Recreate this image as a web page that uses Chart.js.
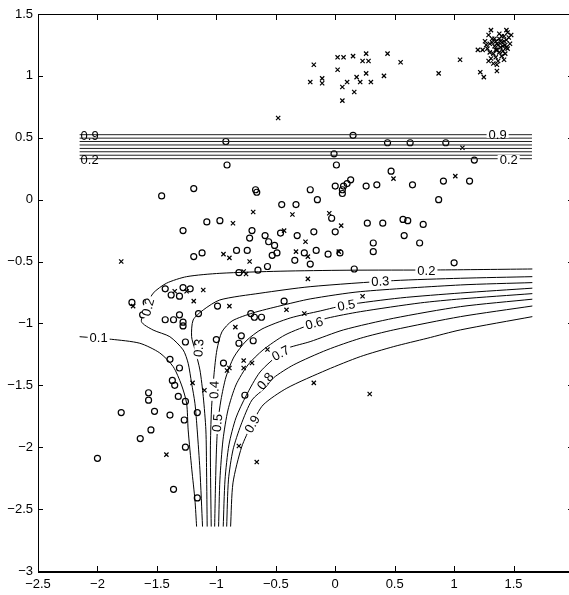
<!DOCTYPE html>
<html>
<head>
<meta charset="utf-8">
<script src="https://cdn.jsdelivr.net/npm/chart.js@4.4.1/dist/chart.umd.min.js"></script>
<style>
  html, body { margin: 0; padding: 0; background: #fff; overflow: hidden; }
  #wrap { width: 580px; height: 595px; }
</style>
</head>
<body>
<div id="wrap"><canvas id="myChart" width="580" height="595"></canvas></div>
<script>
// class "o" samples
var circlePts = [
  [-0.92,0.47],[0.15,0.52],[-0.91,0.28],[-0.01,0.37],[0.01,0.28],[0.44,0.46],[0.63,0.46],[0.93,0.46],
  [1.17,0.32],[0.47,0.23],[0.65,0.12],[0.91,0.15],[1.13,0.15],[-1.46,0.03],[-1.19,0.09],[-0.67,0.08],
  [-0.66,0.06],[-0.21,0.08],[-0.15,0.00],[0.00,0.11],[0.07,0.11],[0.13,0.16],[0.10,0.13],[0.06,0.08],
  [0.06,0.05],[0.26,0.11],[0.35,0.12],[0.87,0.00],[-0.45,-0.04],[-0.33,-0.04],[-1.28,-0.25],[-1.08,-0.18],
  [-0.97,-0.17],[-0.70,-0.25],[-0.72,-0.31],[-0.59,-0.29],[-0.56,-0.34],[-0.51,-0.37],[-0.46,-0.27],[-0.32,-0.29],
  [-0.18,-0.26],[0.00,-0.26],[-0.03,-0.15],[0.27,-0.19],[0.32,-0.35],[0.32,-0.42],[0.40,-0.19],[0.57,-0.16],
  [0.61,-0.17],[0.74,-0.20],[0.58,-0.29],[0.71,-0.35],[1.00,-0.51],[-1.19,-0.46],[-1.12,-0.43],[-0.83,-0.41],
  [-0.74,-0.41],[-0.53,-0.45],[-0.49,-0.43],[-0.34,-0.49],[-0.26,-0.43],[-0.16,-0.41],[-0.06,-0.44],[0.04,-0.43],
  [-0.21,-0.52],[-0.57,-0.54],[-0.65,-0.57],[-0.81,-0.59],[0.16,-0.56],[-1.43,-0.72],[-1.38,-0.77],[-1.28,-0.71],
  [-1.31,-0.78],[-1.22,-0.72],[-1.71,-0.83],[-1.59,-0.83],[-1.62,-0.93],[-1.43,-0.97],[-1.36,-0.97],[-1.31,-0.93],
  [-1.28,-0.99],[-1.28,-1.02],[-1.15,-0.92],[-0.99,-0.86],[-0.71,-0.92],[-0.68,-0.95],[-0.62,-0.95],[-0.43,-0.82],
  [-0.79,-1.10],[-0.81,-1.16],[-0.69,-1.14],[-1.00,-1.13],[-1.26,-1.15],[-1.16,-1.16],[-0.94,-1.32],[-1.39,-1.29],
  [-1.31,-1.36],[-1.37,-1.46],[-1.35,-1.50],[-1.32,-1.59],[-1.26,-1.63],[-1.57,-1.56],[-1.57,-1.62],[-1.52,-1.71],
  [-1.39,-1.74],[-1.16,-1.72],[-1.27,-1.78],[-0.76,-1.58],[-1.80,-1.72],[-1.55,-1.86],[-1.64,-1.93],[-1.26,-2.00],
  [-2.00,-2.09],[-1.36,-2.34],[-1.16,-2.41]
];

// class "x" samples
var crossPts = [
  [-0.18,1.09],[-0.21,0.95],[-0.11,0.98],[-0.11,0.94],[0.02,1.15],[0.07,1.15],[0.15,1.16],[0.26,1.18],
  [0.23,1.12],[0.28,1.12],[0.02,1.05],[0.10,0.95],[0.06,0.91],[0.18,0.99],[0.21,0.95],[0.26,1.02],
  [0.30,0.95],[0.16,0.87],[0.06,0.80],[-0.48,0.66],[0.44,1.18],[0.55,1.11],[0.41,1.00],[0.87,1.02],
  [1.05,1.13],[1.22,1.03],[1.25,0.99],[1.36,1.04],[1.31,1.37],[1.44,1.37],
  [1.28,1.22],[1.30,1.26],[1.32,1.30],[1.33,1.18],[1.34,1.24],[1.35,1.28],[1.36,1.21],[1.37,1.25],
  [1.38,1.30],[1.39,1.23],[1.40,1.27],[1.41,1.20],[1.42,1.32],[1.43,1.25],[1.44,1.29],[1.45,1.22],
  [1.46,1.31],[1.47,1.26],[1.38,1.34],[1.35,1.15],[1.31,1.14],[1.33,1.10],[1.37,1.12],[1.40,1.16],
  [1.42,1.13],[1.26,1.28],[1.24,1.21],[1.29,1.33],[1.36,1.26],[1.39,1.28],[1.41,1.24],[1.34,1.30],
  [1.44,1.23],[1.30,1.19],[1.38,1.19],[1.48,1.33],[1.43,1.18],[1.27,1.25],[1.45,1.35],[1.32,1.27],
  [1.29,1.12],[1.36,1.09],[1.40,1.32],[1.35,1.21],[1.42,1.28],[1.20,1.21],
  [1.07,0.42],[0.49,0.17],[1.01,0.19],
  [-0.69,-0.10],[-0.36,-0.12],[-0.86,-0.19],[-0.05,-0.11],[0.05,-0.21],[-0.43,-0.25],[-0.25,-0.34],[-0.94,-0.44],
  [-0.89,-0.47],[-0.33,-0.42],[-0.23,-0.46],[-0.72,-0.50],[0.03,-0.42],[-0.75,-0.60],[-0.77,-0.58],[-0.23,-0.64],
  [-1.11,-0.73],[-1.19,-0.82],[-0.89,-0.86],[-0.41,-0.89],[-0.26,-0.92],[0.23,-0.78],[-0.84,-1.03],[-0.57,-1.21],
  [-0.77,-1.30],[-0.70,-1.32],[-0.89,-1.36],[-0.91,-1.38],[-0.77,-1.36],[-0.18,-1.48],[0.29,-1.57],[-1.20,-1.48],
  [-1.10,-1.54],[-1.80,-0.50],[-1.70,-0.86],[-1.35,-0.74],[-1.25,-0.74],[-0.98,-1.79],[-1.42,-2.06],[-0.81,-1.99],
  [-0.66,-2.12]
];

// contour lines (level 0.1 ... 0.9)
var c01 = [[-2.15,-1.107],[-1.883,-1.128],[-1.644,-1.16],[-1.476,-1.238],[-1.363,-1.349],[-1.293,-1.497],[-1.25,-1.645],[-1.237,-1.86],[-1.206,-2.183],[-1.18,-2.426],[-1.166,-2.641]];
var c02 = [[1.658,-0.56],[0.843,-0.568],[0.099,-0.57],[-0.464,-0.578],[-0.97,-0.595],[-1.25,-0.622],[-1.419,-0.675],[-1.532,-0.756],[-1.588,-0.864],[-1.63,-0.985],[-1.532,-1.053],[-1.391,-1.107],[-1.279,-1.214],[-1.237,-1.322],[-1.208,-1.483],[-1.18,-1.645],[-1.161,-1.86],[-1.138,-2.183],[-1.116,-2.641]];
var c03 = [[1.658,-0.622],[1.054,-0.635],[0.492,-0.654],[-0.211,-0.703],[-0.633,-0.756],[-0.97,-0.81],[-1.11,-0.891],[-1.195,-0.972],[-1.208,-1.107],[-1.18,-1.211],[-1.138,-1.376],[-1.11,-1.591],[-1.088,-1.86],[-1.082,-2.2],[-1.077,-2.641]];
var c04 = [[1.658,-0.67],[1.054,-0.689],[0.211,-0.743],[-0.211,-0.802],[-0.464,-0.858],[-0.692,-0.915],[-0.868,-0.98],[-0.953,-1.068],[-0.995,-1.213],[-1.02,-1.416],[-1.041,-1.699],[-1.05,-2.022],[-1.043,-2.641]];
var c05 = [[1.658,-0.715],[1.054,-0.754],[0.548,-0.794],[0.093,-0.851],[-0.126,-0.899],[-0.379,-0.956],[-0.616,-1.045],[-0.75,-1.142],[-0.852,-1.271],[-0.919,-1.433],[-0.961,-1.618],[-0.987,-1.804],[-0.999,-2.022],[-1.008,-2.345],[-1.014,-2.641]];
var c06 = [[1.658,-0.759],[1.054,-0.802],[0.717,-0.834],[0.211,-0.905],[-0.07,-0.958],[-0.177,-0.996],[-0.422,-1.093],[-0.607,-1.214],[-0.734,-1.335],[-0.835,-1.497],[-0.902,-1.699],[-0.944,-1.941],[-0.97,-2.264],[-0.981,-2.641]];
var c07 = [[1.658,-0.804],[1.054,-0.864],[0.492,-0.958],[0.07,-1.052],[-0.211,-1.147],[-0.394,-1.197],[-0.46,-1.238],[-0.632,-1.392],[-0.75,-1.585],[-0.835,-1.763],[-0.894,-1.981],[-0.927,-2.264],[-0.942,-2.641]];
var c08 = [[1.658,-0.859],[1.054,-0.945],[0.492,-1.052],[0.211,-1.12],[-0.07,-1.214],[-0.351,-1.335],[-0.52,-1.44],[-0.59,-1.521],[-0.7,-1.618],[-0.793,-1.82],[-0.86,-2.022],[-0.898,-2.264],[-0.913,-2.641]];
var c09 = [[1.658,-0.945],[1.054,-1.052],[0.773,-1.12],[0.492,-1.187],[0.211,-1.268],[-0.07,-1.375],[-0.407,-1.523],[-0.607,-1.659],[-0.7,-1.812],[-0.787,-1.998],[-0.86,-2.288],[-0.88,-2.641]];

// the flat band of levels near y = 0.4
var bandX = [-2.15, 1.655];
var bandY = [0.525, 0.497, 0.47, 0.442, 0.414, 0.387, 0.359, 0.331];

// contour labels: text, x, y, angle
var labelText = ['0.1','0.2','0.2','0.3','0.3','0.4','0.5','0.5','0.6','0.7','0.8','0.9','0.9','0.2','0.9','0.2'];
var labelX    = [-1.99,-1.577,0.767,0.379,-1.151,-1.02,-0.995,0.093,-0.177,-0.46,-0.59,-0.70,-2.066,-2.066,1.366,1.459];
var labelY    = [-1.109,-0.867,-0.568,-0.657,-1.198,-1.537,-1.803,-0.851,-0.996,-1.238,-1.464,-1.812,0.523,0.329,0.531,0.329];
var labelRot  = [0,-75,0,-3,-85,-88,-85,-10,-15,-28,-50,-60,0,0,0,0];

function toXY(arr) {
    return arr.map(function (p) { return {x: p[0], y: p[1]}; });
}

var datasets = [];
[c01, c02, c03, c04, c05, c06, c07, c08, c09].forEach(function (c) {
    datasets.push({
        data: toXY(c), showLine: true, borderColor: '#000', borderWidth: 1,
        pointRadius: 0, tension: 0.25, fill: false
    });
});
bandY.forEach(function (v) {
    datasets.push({
        data: [{x: bandX[0], y: v}, {x: bandX[1], y: v}], showLine: true,
        borderColor: '#222', borderWidth: 1, pointRadius: 0, fill: false
    });
});
datasets.push({
    data: toXY(circlePts), pointStyle: 'circle', pointRadius: 3,
    borderColor: '#000', borderWidth: 1.2, backgroundColor: 'rgba(0,0,0,0)', showLine: false
});
datasets.push({
    data: toXY(crossPts), pointStyle: 'crossRot', pointRadius: 3,
    borderColor: '#000', borderWidth: 1.2, backgroundColor: '#000', showLine: false
});

var fontFamily = '"Liberation Sans", Arial, Helvetica, sans-serif';

var labelPlugin = {
    id: 'contourLabels',
    afterDatasetsDraw: function (chart) {
        var ctx = chart.ctx, xs = chart.scales.x, ys = chart.scales.y;
        ctx.save();
        ctx.font = '13px ' + fontFamily;
        ctx.textAlign = 'center';
        ctx.textBaseline = 'middle';
        for (var i = 0; i < labelText.length; i++) {
            var px = xs.getPixelForValue(labelX[i]);
            var py = ys.getPixelForValue(labelY[i]);
            ctx.save();
            ctx.translate(px, py);
            ctx.rotate(labelRot[i] * Math.PI / 180);
            var w = ctx.measureText(labelText[i]).width;
            if (i < 12 || i >= 14) {
                ctx.fillStyle = '#fff';
                ctx.fillRect(-w / 2 - 2, -4, w + 4, 8);
            }
            ctx.fillStyle = '#000';
            ctx.fillText(labelText[i], 0, 1);
            ctx.restore();
        }
        ctx.restore();
    }
};

var framePlugin = {
    id: 'frame',
    afterDraw: function (chart) {
        var ctx = chart.ctx, a = chart.chartArea, xs = chart.scales.x, ys = chart.scales.y;
        ctx.save();
        ctx.strokeStyle = '#000';
        ctx.lineWidth = 1;
        ctx.strokeRect(Math.round(a.left) + 0.5, Math.round(a.top) + 0.5,
            Math.round(a.right - a.left), Math.round(a.bottom - a.top));
        ctx.lineWidth = 2;
        ctx.beginPath();
        ctx.moveTo(a.left, Math.round(a.bottom) + 1);
        ctx.lineTo(a.right, Math.round(a.bottom) + 1);
        ctx.stroke();
        ctx.lineWidth = 1;
        ctx.beginPath();
        xs.ticks.forEach(function (t) {
            var px = Math.round(xs.getPixelForValue(t.value)) + 0.5;
            ctx.moveTo(px, a.bottom); ctx.lineTo(px, a.bottom - 5);
            ctx.moveTo(px, a.top); ctx.lineTo(px, a.top + 6);
        });
        ys.ticks.forEach(function (t) {
            var py = Math.round(ys.getPixelForValue(t.value)) + 0.5;
            ctx.moveTo(a.left, py); ctx.lineTo(a.left + 5, py);
            ctx.moveTo(a.right, py); ctx.lineTo(a.right - 5, py);
        });
        ctx.stroke();
        ctx.restore();
    }
};

function fmt(v) {
    return (v < 0 ? '\u2212' : '') + Math.abs(Math.round(v * 10) / 10);
}

var ctx = document.getElementById('myChart');
var chart = new Chart(ctx, {
    type: 'scatter',
    data: {datasets: datasets},
    options: {
        responsive: false,
        animation: false,
        layout: {padding: {left: 0, top: 14, right: 7, bottom: 0}},
        plugins: {legend: {display: false}, tooltip: {enabled: false}},
        scales: {
            x: {
                type: 'linear', min: -2.5, max: 2,
                ticks: {stepSize: 0.5, color: '#000', padding: 6, maxRotation: 0,
                    font: {family: fontFamily, size: 13},
                    callback: function (v) { return v >= 2 ? '' : fmt(v); }},
                grid: {display: false, drawTicks: false},
                border: {display: false},
                afterFit: function (s) { s.height = 24; }
            },
            y: {
                type: 'linear', min: -3, max: 1.5,
                ticks: {stepSize: 0.5, color: '#000', padding: 5,
                    font: {family: fontFamily, size: 13}, callback: fmt},
                grid: {display: false, drawTicks: false},
                border: {display: false},
                afterFit: function (s) { s.width = 38; }
            }
        }
    },
    plugins: [labelPlugin, framePlugin]
});
</script>
</body>
</html>
